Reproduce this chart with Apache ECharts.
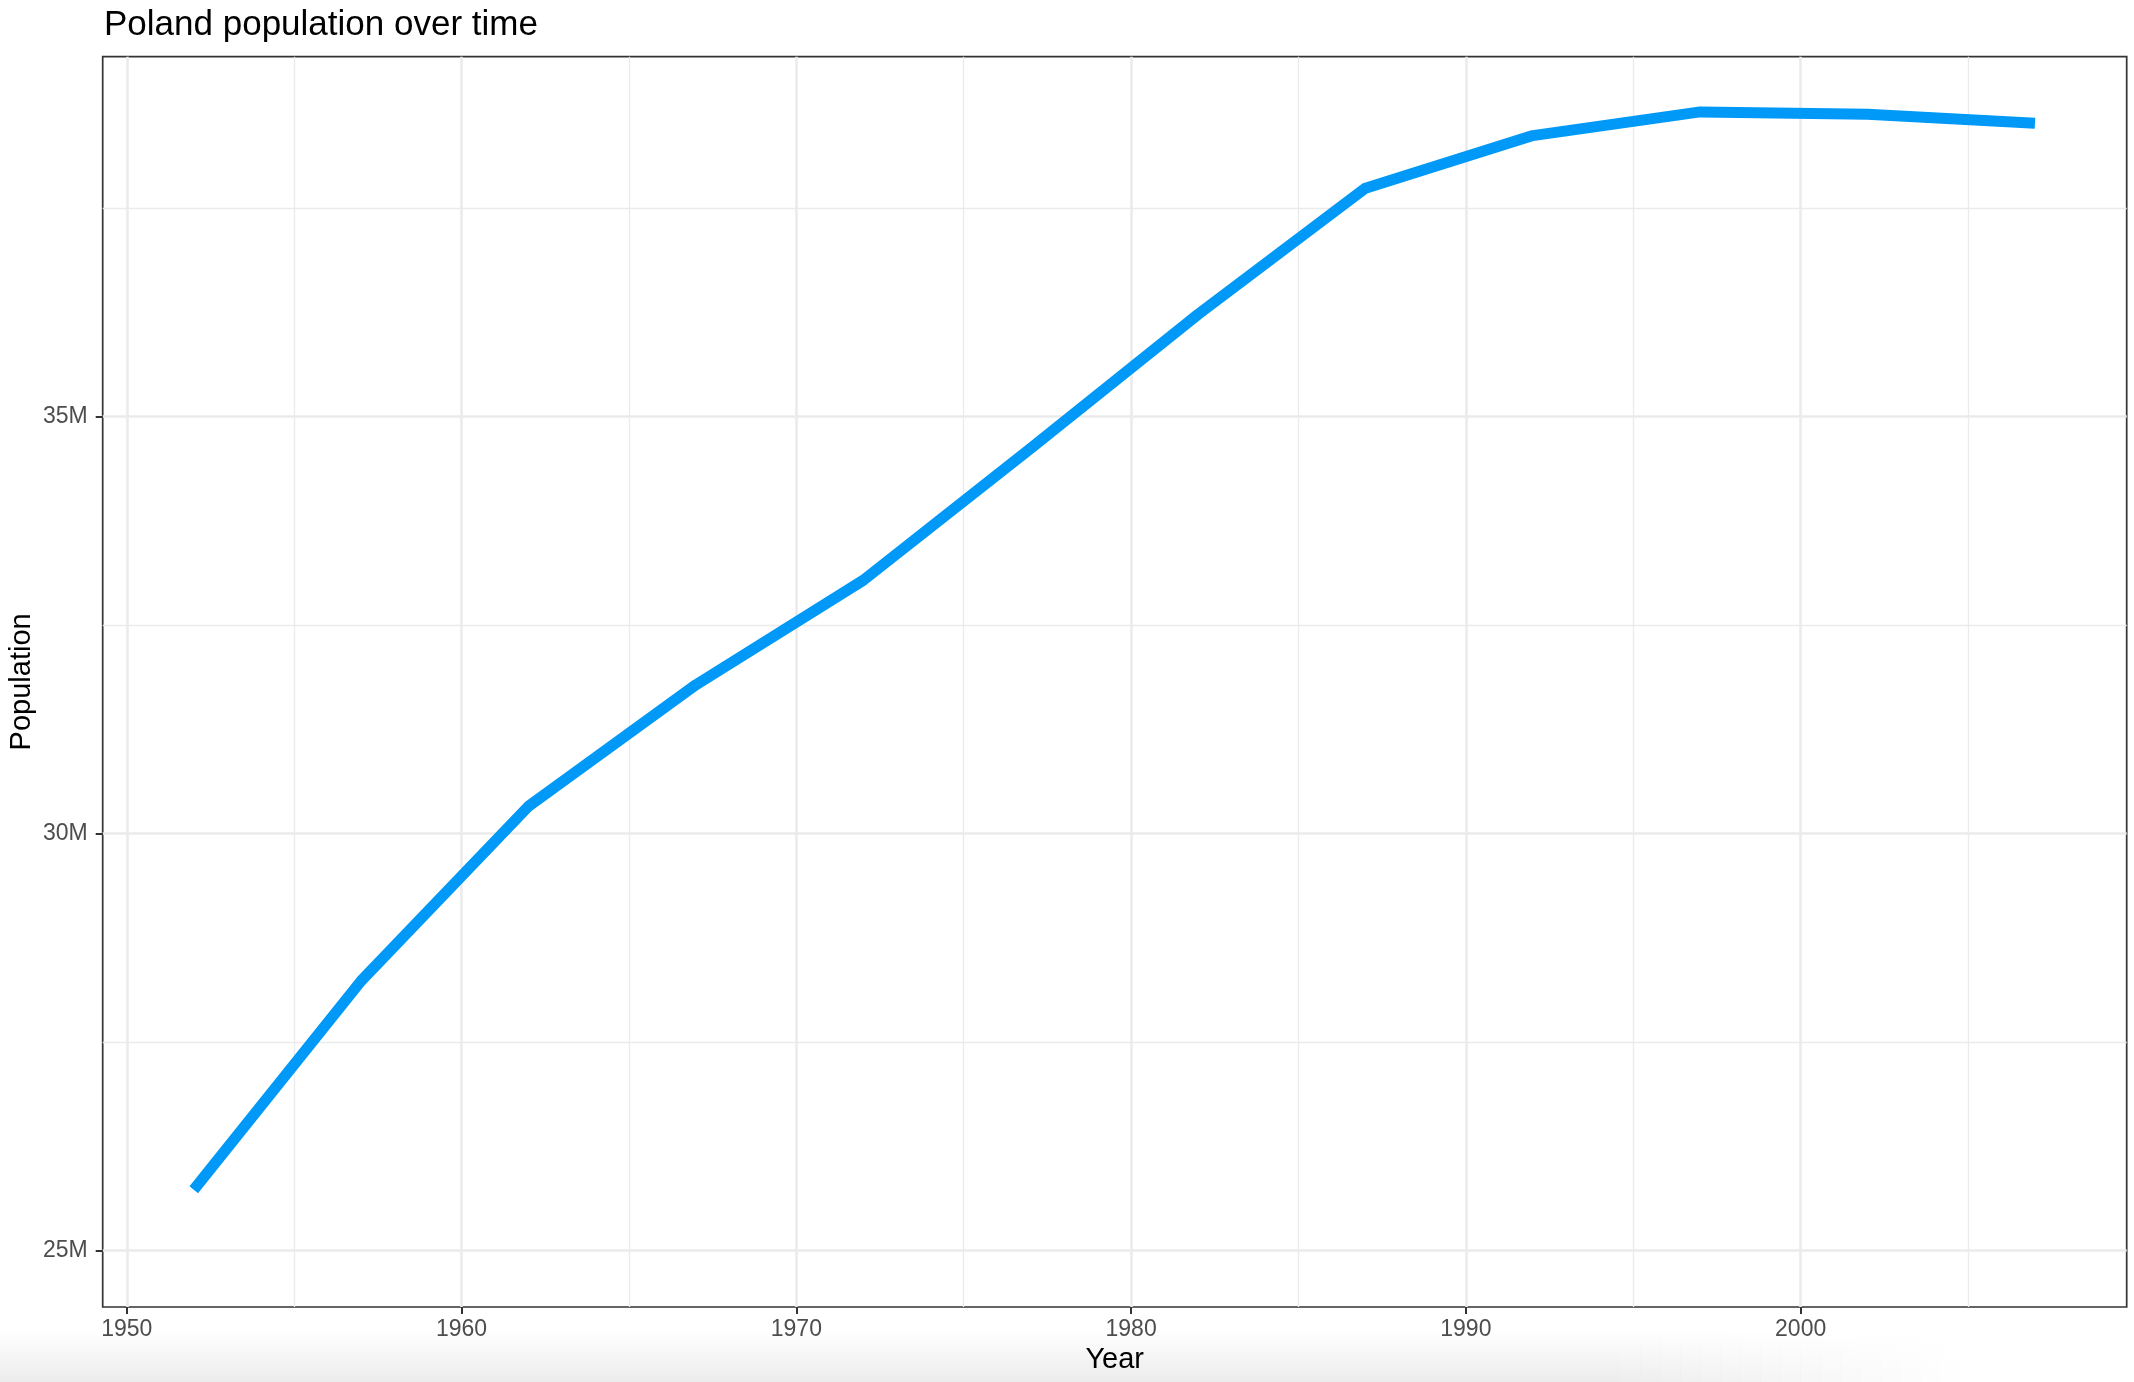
<!DOCTYPE html>
<html>
<head>
<meta charset="utf-8">
<script src="https://cdn.jsdelivr.net/npm/echarts@6/dist/echarts.min.js"></script>
<style>
html,body{margin:0;padding:0;background:#fff;}
#chart{width:2134px;height:1382px;}
</style>
</head>
<body>
<div id="chart"></div>
<script>
const years = [1952, 1957, 1962, 1967, 1972, 1977, 1982, 1987, 1992, 1997, 2002, 2007];
const population = [25730551, 28235346, 30329617, 31785378, 33039545, 34621254, 36227381, 37740710, 38370697, 38654957, 38625976, 38518241];
const xMajorTicks = [1950, 1960, 1970, 1980, 1990, 2000];
const xMinorTicks = [1955, 1965, 1975, 1985, 1995, 2005];
const yMajorTicks = [25000000, 30000000, 35000000];
const yMinorTicks = [27500000, 32500000, 37500000];

const FONT = '"Liberation Sans", Arial, Helvetica, sans-serif';
const chart = echarts.init(document.getElementById('chart'));

const xMin = 1949.28, xMax = 2009.74;
const yMin = 24325000, yMax = 39317000;

// bottom screenshot shade: vertical fade, fading out towards the right
const shade = [];
const fadeStart = 1620, fadeEnd = 1960, steps = 17;
shade.push({
  type: 'rect', z: -10, silent: true,
  shape: {x: 0, y: 1330, width: fadeStart, height: 52},
  style: {fill: new echarts.graphic.LinearGradient(0, 0, 0, 1, [
    {offset: 0, color: 'rgba(236,236,236,0)'},
    {offset: 1, color: 'rgba(236,236,236,1)'}
  ])}
});
for (let i = 0; i < steps; i++) {
  const w = (fadeEnd - fadeStart) / steps;
  shade.push({
    type: 'rect', z: -10, silent: true,
    shape: {x: fadeStart + i * w, y: 1330, width: w + 0.5, height: 52},
    style: {
      opacity: 1 - (i + 1) / (steps + 1),
      fill: new echarts.graphic.LinearGradient(0, 0, 0, 1, [
        {offset: 0, color: 'rgba(236,236,236,0)'},
        {offset: 1, color: 'rgba(236,236,236,1)'}
      ])
    }
  });
}

chart.setOption({
  animation: false,
  backgroundColor: '#ffffff',
  title: {
    text: 'Poland population over time',
    left: 99, top: 3,
    textStyle: {fontFamily: FONT, fontSize: 35, fontWeight: 'normal', color: '#000'}
  },
  grid: {
    left: 102.7, right: 7.3, top: 56.7, bottom: 75,
    show: true, backgroundColor: '#fff', borderColor: '#333', borderWidth: 1.7,
    containLabel: false, outerBoundsMode: 'none'
  },
  graphic: shade,
  xAxis: [{
    type: 'value', min: xMin, max: xMax, position: 'bottom',
    name: 'Year', nameLocation: 'middle', nameGap: 38, nameMoveOverlap: false,
    nameTextStyle: {fontFamily: FONT, fontSize: 29, color: '#000'},
    axisLine: {show: false},
    axisTick: {show: true, customValues: xMajorTicks, length: 7, lineStyle: {color: '#333', width: 2}},
    axisLabel: {customValues: xMajorTicks, fontFamily: FONT, fontSize: 23, color: '#4d4d4d', margin: 11,
      formatter: v => String(v)},
    splitLine: {show: true, lineStyle: {color: '#ebebeb', width: 2.6}}
  }, {
    type: 'value', min: xMin, max: xMax, position: 'top',
    axisLine: {show: false},
    axisTick: {show: false, customValues: xMinorTicks},
    axisLabel: {show: false, customValues: xMinorTicks},
    splitLine: {show: true, lineStyle: {color: '#ebebeb', width: 1.3}}
  }],
  yAxis: [{
    type: 'value', min: yMin, max: yMax, position: 'left',
    name: 'Population', nameLocation: 'middle', nameGap: 66, nameMoveOverlap: false,
    nameTextStyle: {fontFamily: FONT, fontSize: 29, color: '#000'},
    axisLine: {show: false},
    axisTick: {show: true, customValues: yMajorTicks, length: 7, lineStyle: {color: '#333', width: 2}},
    axisLabel: {customValues: yMajorTicks, fontFamily: FONT, fontSize: 23, color: '#4d4d4d', margin: 15,
      formatter: v => (v / 1e6) + 'M'},
    splitLine: {show: true, lineStyle: {color: '#ebebeb', width: 2.6}}
  }, {
    type: 'value', min: yMin, max: yMax, position: 'right',
    axisLine: {show: false},
    axisTick: {show: false, customValues: yMinorTicks},
    axisLabel: {show: false, customValues: yMinorTicks},
    splitLine: {show: true, lineStyle: {color: '#ebebeb', width: 1.3}}
  }],
  series: [{
    type: 'line',
    xAxisIndex: 0, yAxisIndex: 0,
    data: years.map((y, i) => [y, population[i]]),
    showSymbol: false, symbol: 'none',
    lineStyle: {color: '#0099f8', width: 11, cap: 'butt', join: 'round'},
    z: 5
  }]
});
</script>
</body>
</html>
